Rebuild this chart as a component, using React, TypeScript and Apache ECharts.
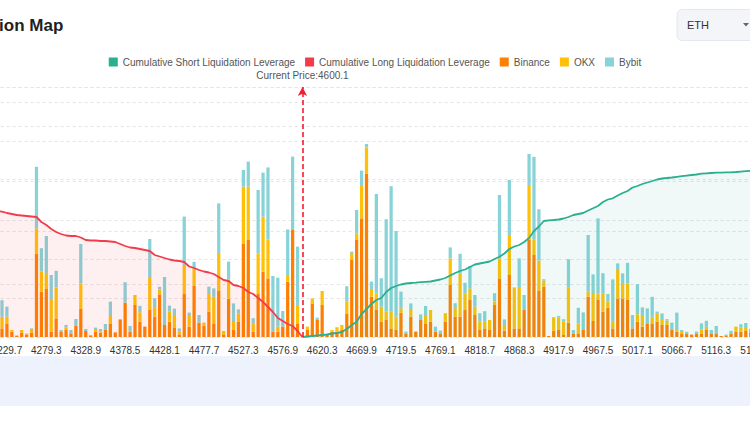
import React, { useEffect, useRef } from "react";
import * as echarts from "echarts";

// ---- categories (price bins) ----
const LOW_START = 4217.3;
const BIN_STEP = 6.2;
const LOW_COUNT = 62;
const CURRENT_PRICE = "4600.1";
const HIGH_START = 4601.7;
const HIGH_COUNT = 92;
const categories: string[] = [
  ...Array.from({ length: LOW_COUNT }, (_, i) => (LOW_START + BIN_STEP * i).toFixed(1)),
  CURRENT_PRICE,
  ...Array.from({ length: HIGH_COUNT }, (_, i) => (HIGH_START + BIN_STEP * i).toFixed(1)),
];
const CURRENT_INDEX = LOW_COUNT;

// ---- exchange liquidation bars (M USD) ----
const binance = [
  3, 4.3, 6.5, 2.7, 0.7, 2.2, 1.3, 2.2, 41.5, 22.7, 24, 2.7, 9.3, 2.7, 3.5, 1.8, 5.7, 14, 3, 0.8,
  2.7, 2.2, 3.8, 6.8, 2.3, 8.8, 17.2, 2.7, 16, 7.7, 5.2, 13.8, 10.2, 21.3, 6, 7.7, 4.8, 1.3, 21.5, 5.2,
  25.5, 7.2, 5.7, 12.7, 6.8, 23, 1, 19.2, 3.8, 7.8, 46.5, 48.5, 2.7, 21.8, 32.7, 29.3, 2.7, 2.7, 5.2, 27.7,
  53.5, 6.8, 0, 3.5, 16.8, 8.5, 16, 1.5, 2.7, 2.7, 3.5, 11.8, 38.5, 48.5, 59.3, 81.8, 20.2, 13.5, 7.7, 8.5,
  4.3, 3.5, 12.2, 1.5, 10.2, 2.7, 8.5, 6.5, 7.7, 2.7, 1.5, 7.7, 26, 10.2, 10.2, 13.5, 18.5, 11, 3.5, 4.3,
  3.5, 16, 29.3, 3.2, 31, 4.3, 4.3, 13.5, 48.5, 41, 23, 25.2, 0.5, 3.2, 3.5, 1, 7.2, 1.5, 1.8, 3.8,
  20.2, 8, 18.5, 12.7, 14.7, 4.3, 19.3, 19.3, 18.5, 4.3, 7.7, 5.2, 6.8, 6.8, 7.7, 6, 6, 3.5, 2.7, 1.5,
  1.8, 1.2, 1.5, 1.8, 3.8, 1.5, 1.8, 0.5, 0.5, 1.8, 2.7, 2.7, 3, 2, 2,
];
const okx = [
  2, 5.8, 3.7, 0.8, 0, 1.3, 0.5, 1.3, 12.8, 10, 7.5, 15.8, 15.5, 0, 1.2, 0, 0, 12.8, 0, 0,
  0.8, 0.5, 0, 4.2, 0, 0, 0, 0, 5, 4.7, 0, 16.2, 4.7, 2.5, 0, 5, 5.7, 1.3, 14.5, 5.8,
  9.3, 0, 1.5, 8.8, 13.3, 18.5, 2, 9.7, 3.7, 3.8, 28.7, 26.7, 4.2, 20, 27.5, 19.5, 0, 2.5, 0, 3.3,
  0, 9.2, 0, 1.7, 2.5, 0, 7, 0, 0.8, 2.2, 2.5, 5.8, 3, 3.3, 16.7, 13, 3.3, 8.3, 7.5, 4.2,
  8.3, 6.7, 2.2, 0, 3.3, 0, 0, 4.5, 5.8, 0, 0, 4.2, 13.3, 4.2, 21.7, 8.3, 5.8, 4.2, 4.2, 3.3,
  5, 1.7, 10, 2.8, 19.5, 20.5, 20.8, 0, 27.5, 7.8, 15.2, 3, 0, 6.7, 6.3, 6.7, 17.7, 0, 5, 0,
  2.5, 13.5, 3.3, 9.2, 3, 3.3, 14.2, 7.2, 8.3, 0, 3.7, 5.8, 0, 3.3, 4.2, 2.5, 2.2, 0, 0.8, 1,
  0, 0, 0, 2, 1.3, 0, 0, 0, 0, 0, 2.5, 2, 2, 1, 1,
];
const bybit = [
  2, 8.3, 5, 0, 0, 0, 0, 0.8, 30.8, 11.7, 19, 12.5, 8.3, 0.8, 1.3, 1.7, 3.3, 19.7, 1, 0,
  1.2, 1.3, 2.7, 6.7, 0, 0, 10.2, 2.8, 0, 3.2, 0, 19, 4.5, 1.3, 24, 3, 3.7, 1.7, 24.2, 1.2,
  2.8, 3.8, 0, 3.7, 4.2, 25.3, 0, 8.8, 9.3, 2.2, 8.3, 12.5, 2.5, 31.7, 22, 36, 27.8, 24.5, 7.8, 22.8,
  36.7, 29.2, 0, 0, 0, 1.2, 0, 0, 0, 0, 0, 7.8, 1.2, 11.7, 7.2, 1.7, 4.2, 49.7, 14.2, 46.2,
  62.8, 42.8, 8.3, 1.2, 3.3, 0, 2.8, 4.5, 0, 2.5, 1.7, 0, 5.5, 2.5, 9.7, 5.3, 11.2, 5.8, 4.2, 5.3,
  0, 4.2, 31.7, 2.8, 28, 0, 14.2, 7.5, 15.5, 41.3, 25.7, 0.7, 0, 0, 0.7, 1.2, 14, 2, 7.8, 8.5,
  28.3, 9.8, 37.5, 10, 3.8, 21.2, 3.3, 5.3, 10.3, 6.7, 15, 3.8, 7.5, 10, 0.8, 3.3, 0.7, 3.7, 8.7, 1,
  0.8, 0, 1.2, 3, 3, 2, 3.7, 0, 0.7, 1.3, 0, 1.7, 2, 1, 1,
];

// ---- cumulative leverage lines (M USD) ----
const cumulativeLong = [
  252, 250.6, 248, 246, 244, 243, 242, 241, 240, 230, 224, 216, 210, 206, 203, 202, 202, 199, 194, 193,
  193, 192, 192, 191, 190, 186, 182, 179, 178, 176, 174, 172, 164, 161, 158, 155, 153, 152, 150, 141,
  138, 134, 131, 129, 126, 120, 114, 112, 104, 102, 98, 90, 86, 78, 70, 60, 50, 38, 32, 26,
  22, 12, 0,
];
const cumulativeShort = [
  0, 1, 2, 3, 4, 5, 7, 8, 10, 16, 24, 30.6, 46, 56, 66, 74, 78, 90, 98, 102,
  105, 107, 108, 108.6, 109.6, 110.4, 111, 113, 115, 118, 123, 128, 132, 135, 140, 145, 147, 149, 151, 156,
  160.6, 167, 176, 181, 184, 190, 198, 212, 221, 232, 233.4, 234, 235, 237, 240, 244, 246, 248, 253, 257.4,
  262, 270, 275, 277.4, 283, 288, 292, 299, 302, 306, 309, 312, 315, 317, 318, 319, 320.4, 321.6, 322.8, 324,
  325, 326.6, 327.4, 328, 328.6, 328.8, 329.2, 329.4, 330, 330.8, 331.6, 332.4, 333,
];

const longSeriesData = categories.map((_, i) => (i < cumulativeLong.length ? cumulativeLong[i] : null));
const shortSeriesData = categories.map((_, i) =>
  i >= CURRENT_INDEX ? cumulativeShort[i - CURRENT_INDEX] : null
);

const FONT = '"Liberation Sans", Arial, sans-serif';

export default function App() {
  const ref = useRef<HTMLDivElement>(null);

  useEffect(() => {
    if (!ref.current) return;
    const chart = echarts.init(ref.current, null, { renderer: "svg" });
    const option: any = {
      animation: false,
      textStyle: { fontFamily: FONT },
      legend: {
        top: 52,
        left: "center",
        icon: "rect",
        itemWidth: 9,
        itemHeight: 9,
        itemGap: 10,
        textStyle: { fontSize: 10, color: "#555", fontFamily: FONT },
        data: [
          "Cumulative Short Liquidation Leverage",
          "Cumulative Long Liquidation Leverage",
          "Binance",
          "OKX",
          "Bybit",
        ],
      },
      grid: {
        left: 94.6,
        top: 87,
        width: 763.5,
        height: 250,
        containLabel: false,
        outerBoundsMode: "none",
      },
      xAxis: {
        type: "category",
        data: categories,
        boundaryGap: true,
        axisLine: { show: false },
        axisTick: { show: false },
        axisLabel: {
          interval: (index: number) => index >= 2 && (index - 2) % 8 === 0,
          color: "#333",
          fontSize: 10,
          fontFamily: FONT,
          margin: 8,
          hideOverlap: false,
        },
      },
      yAxis: [
        {
          type: "value",
          min: 0,
          max: 125,
          interval: 19.53125,
          axisLabel: { show: false },
          axisLine: { show: false },
          axisTick: { show: false },
          splitLine: { lineStyle: { color: "#e4e4e4", type: [3, 3], width: 1 } },
        },
        {
          type: "value",
          min: 0,
          max: 500,
          interval: 105.5,
          axisLabel: { show: false },
          axisLine: { show: false },
          axisTick: { show: false },
          splitLine: { lineStyle: { color: "#e4e4e4", type: [3, 3], width: 1 } },
        },
      ],
      series: [
        {
          name: "Binance",
          type: "bar",
          stack: "ex",
          yAxisIndex: 0,
          barWidth: "66%",
          itemStyle: { color: "#ff8000" },
          data: binance,
        },
        {
          name: "OKX",
          type: "bar",
          stack: "ex",
          yAxisIndex: 0,
          barWidth: "66%",
          itemStyle: { color: "#ffc107" },
          data: okx,
        },
        {
          name: "Bybit",
          type: "bar",
          stack: "ex",
          yAxisIndex: 0,
          barWidth: "66%",
          itemStyle: { color: "#88d3d8" },
          data: bybit,
        },
        {
          name: "Cumulative Short Liquidation Leverage",
          type: "line",
          yAxisIndex: 1,
          symbol: "none",
          smooth: false,
          itemStyle: { color: "#2aaf8f" },
          lineStyle: { color: "#2aaf8f", width: 1.8 },
          areaStyle: { color: "rgba(42,175,143,0.1)" },
          data: shortSeriesData,
        },
        {
          name: "Cumulative Long Liquidation Leverage",
          type: "line",
          yAxisIndex: 1,
          symbol: "none",
          smooth: false,
          itemStyle: { color: "#f23c4c" },
          lineStyle: { color: "#f23c4c", width: 1.8 },
          areaStyle: { color: "rgba(242,60,76,0.11)" },
          data: longSeriesData,
          markLine: {
            silent: true,
            symbol: ["none", "arrow"],
            symbolSize: [7, 9],
            lineStyle: { color: "#f0202f", type: [5, 3], width: 1.6 },
            label: {
              show: true,
              position: "end",
              distance: 7,
              formatter: "Current Price:" + CURRENT_PRICE,
              color: "#555",
              fontSize: 10,
              fontFamily: FONT,
            },
            data: [{ xAxis: CURRENT_INDEX }],
          },
        },
      ],
      graphic: [
        {
          type: "rect",
          silent: true,
          z: -10,
          shape: { x: 0, y: 356, width: 950, height: 50 },
          style: { fill: "#eef2fc" },
        },
        {
          type: "text",
          x: 33,
          y: 25,
          style: {
            text: "Liquidation Map",
            font: 'bold 17px "Liberation Sans", Arial, sans-serif',
            fill: "#1f1f1f",
            verticalAlign: "middle",
            align: "left",
          },
        },
        {
          type: "rect",
          shape: { x: 777, y: 9.5, width: 130, height: 31, r: 5 },
          style: { fill: "#f3f5f9", stroke: "#e4e8ee", lineWidth: 1 },
        },
        {
          type: "text",
          x: 787,
          y: 25,
          style: {
            text: "ETH",
            font: '11px "Liberation Sans", Arial, sans-serif',
            fill: "#333",
            verticalAlign: "middle",
            align: "left",
          },
        },
        {
          type: "polygon",
          shape: { points: [[843, 23], [849, 23], [846, 26.5]] },
          style: { fill: "#666" },
        },
      ],
    };
    chart.setOption(option);
    return () => chart.dispose();
  }, []);

  return (
    <div
      style={{
        position: "fixed",
        left: 0,
        top: 0,
        width: 750,
        height: 430,
        overflow: "hidden",
        background: "#fff",
      }}
    >
      <div ref={ref} style={{ position: "absolute", left: -100, top: 0, width: 950, height: 430 }} />
    </div>
  );
}
